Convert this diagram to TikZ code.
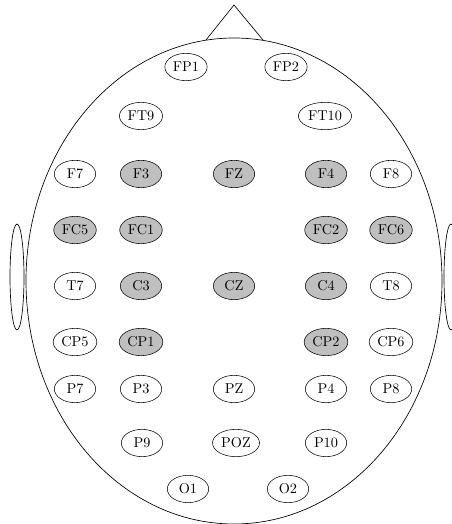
\documentclass[tikz,border=0pt]{standalone}
\usetikzlibrary{shapes.geometric}
\begin{document}
\begin{tikzpicture}[x=0.75pt,y=-0.75pt,
  electrode/.style={draw, ellipse, inner sep=1.4pt, minimum width=31pt, minimum height=20.5pt, font=\fontsize{10.7}{12}\selectfont},
  active/.style={electrode, fill=black!25},
  outline/.style={draw, line width=0.5pt}]
\useasboundingbox (0,0) rectangle (452,524);
% head
\draw[outline] (234,281) ellipse [x radius=208, y radius=243];
\coordinate (noseL) at (206,40);
\coordinate (noseT) at (234,5);
\coordinate (noseR) at (263,40);
\draw[outline] (noseL) -- (noseT) -- (noseR);
\draw[outline] (17,277) ellipse [x radius=7, y radius=53];
\draw[outline] (451,277) ellipse [x radius=7, y radius=53];
% electrodes
\node[electrode] (FP1) at (186,67) {FP1};
\node[electrode] (FP2) at (286,67) {FP2};
\node[electrode] (FT9) at (141,116) {FT9};
\node[electrode] (FT10) at (325,116) {FT10};
\node[electrode] (F7) at (75,174) {F7};
\node[active] (F3) at (141,174) {F3};
\node[active] (FZ) at (234,174) {FZ};
\node[active] (F4) at (326,174) {F4};
\node[electrode] (F8) at (391,174) {F8};
\node[active] (FC5) at (75,230) {FC5};
\node[active] (FC1) at (141,230) {FC1};
\node[active] (FC2) at (326,230) {FC2};
\node[active] (FC6) at (391,230) {FC6};
\node[electrode] (T7) at (75,286) {T7};
\node[active] (C3) at (141,286) {C3};
\node[active] (CZ) at (234,286) {CZ};
\node[active] (C4) at (326,286) {C4};
\node[electrode] (T8) at (391,286) {T8};
\node[electrode] (CP5) at (75,342) {CP5};
\node[active] (CP1) at (141,342) {CP1};
\node[active] (CP2) at (326,342) {CP2};
\node[electrode] (CP6) at (391,342) {CP6};
\node[electrode] (P7) at (75,389) {P7};
\node[electrode] (P3) at (141,389) {P3};
\node[electrode] (PZ) at (234,389) {PZ};
\node[electrode] (P4) at (326,389) {P4};
\node[electrode] (P8) at (391,389) {P8};
\node[electrode] (P9) at (142,443) {P9};
\node[electrode] (POZ) at (236,443) {POZ};
\node[electrode] (P10) at (326,443) {P10};
\node[electrode] (O1) at (188,489) {O1};
\node[electrode] (O2) at (288,489) {O2};
\end{tikzpicture}
\end{document}
